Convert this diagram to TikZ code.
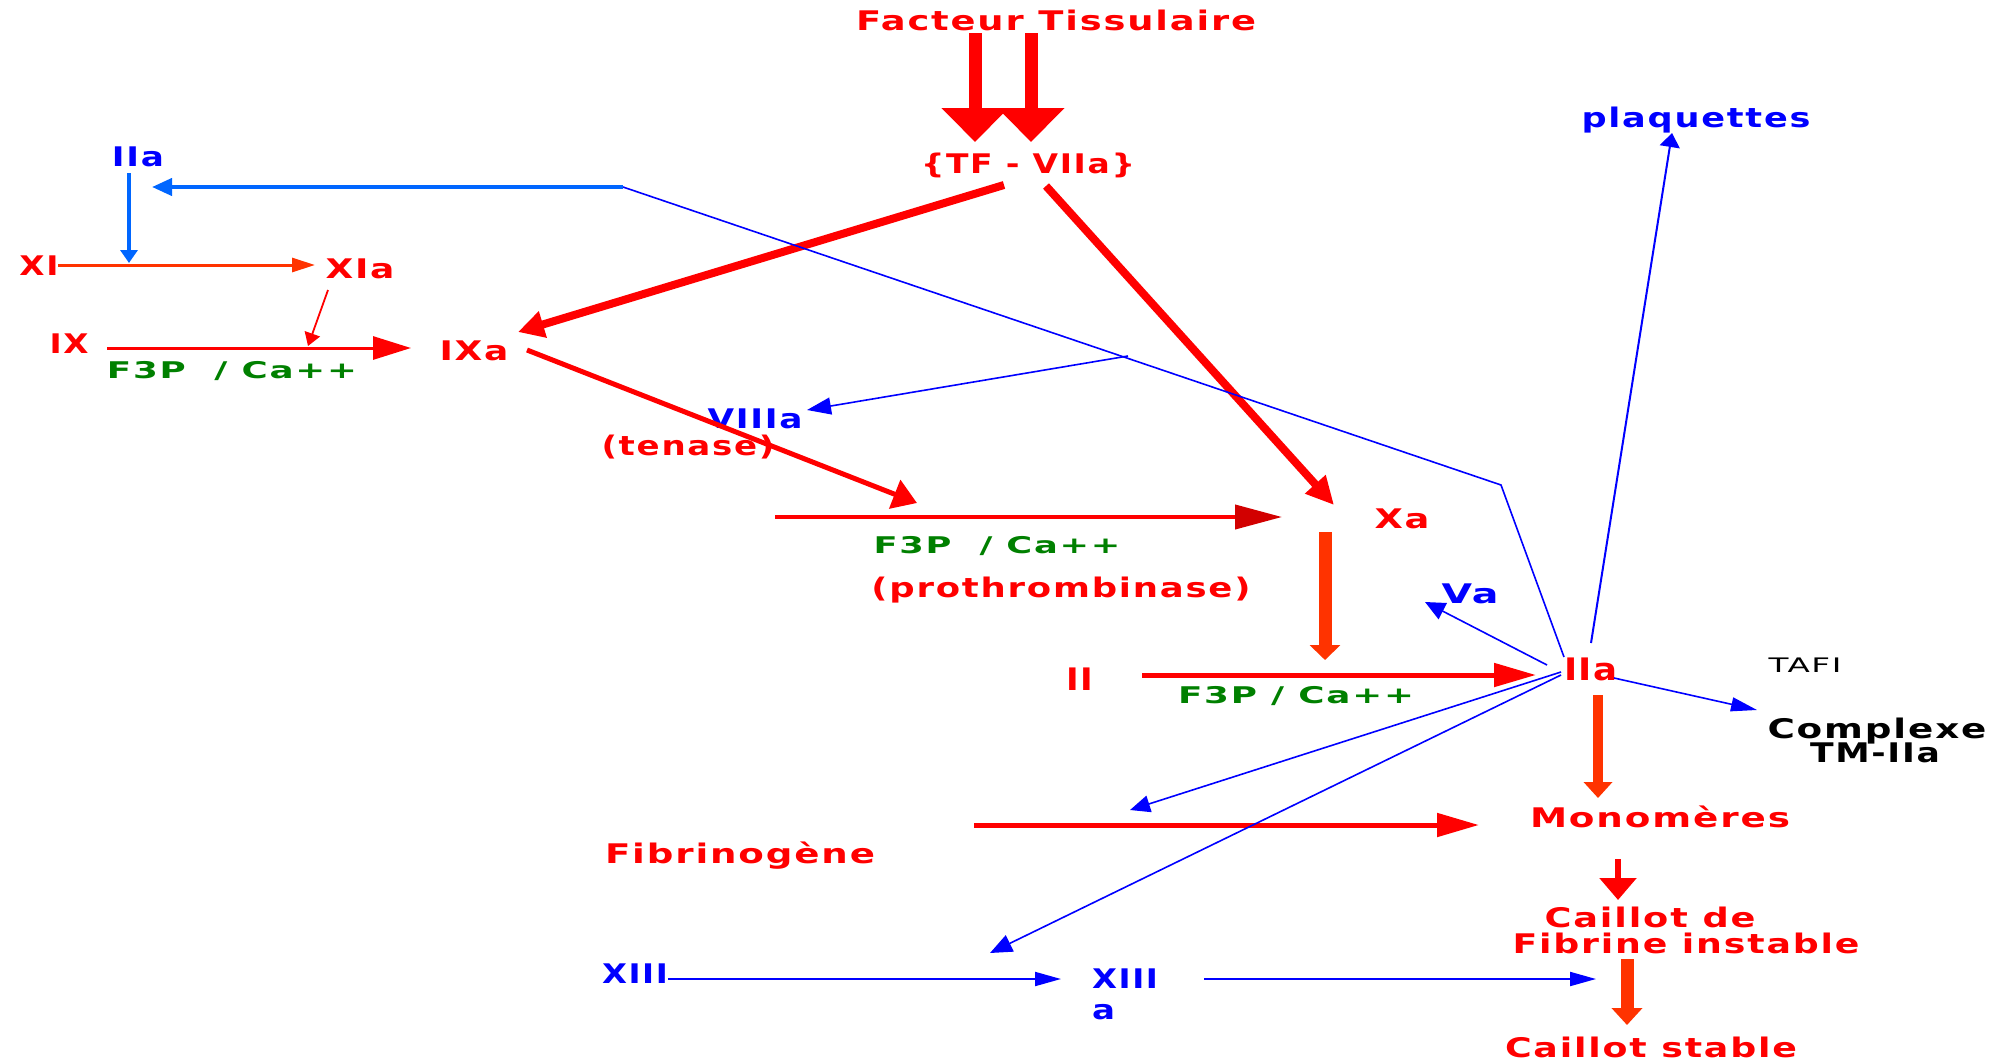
\documentclass[tikz,border=0pt]{standalone}
\usepackage{fontspec}
\usepackage{graphicx}
\setmainfont{DejaVu Sans}
\newfontfamily\lblfont{DejaVu Sans}[LetterSpace=5]
\usetikzlibrary{arrows.meta}
\definecolor{cred}{RGB}{255,0,0}
\definecolor{corange}{RGB}{255,51,0}
\definecolor{cdark}{RGB}{210,0,0}
\definecolor{cblue}{RGB}{0,0,255}
\definecolor{csky}{RGB}{0,102,255}
\definecolor{cgreen}{RGB}{0,128,0}
% stretch a label horizontally to a given width (pt), keeping its height
\newcommand\tw[2]{\resizebox{#1pt}{\height}{#2}}
\begin{document}
\begin{tikzpicture}[x=1pt,y=-1pt,
  lbl/.style={inner sep=0pt, anchor=base, font=\lblfont\bfseries\fontsize{27}{27}\selectfont},
  biglbl/.style={lbl, font=\lblfont\bfseries\fontsize{31}{31}\selectfont},
  cofac/.style={lbl, text=cgreen, font=\lblfont\bfseries\fontsize{23}{23}\selectfont},
  small/.style={inner sep=0pt, anchor=base, font=\lblfont\fontsize{20}{20}\selectfont},
  thin/.style={cblue, line width=1.6pt},
]
\useasboundingbox[fill=white] (0,0) rectangle (1993,1063);

% ---------- labels ----------
\node[lbl,text=cred]   (ft)     at (1056,30)  {\tw{400}{Facteur Tissulaire}};
\node[lbl,text=cred]   (tf)     at (1028,173) {\tw{214}{\{TF - VIIa\}}};
\node[lbl,text=cblue]  (plq)    at (1696,127) {\tw{229}{plaquettes}};
\node[lbl,text=cblue]  (iiatop) at (138,166)  {\tw{52}{IIa}};
\node[lbl,text=cred]   (xi)     at (39,275)   {\tw{39}{XI}};
\node[lbl,text=cred]   (xia)    at (360,278)  {\tw{69}{XIa}};
\node[lbl,text=cred]   (ix)     at (69,353)   {\tw{39}{IX}};
\node[cofac]           (f3pA)   at (232,378)  {\tw{250}{F3P\ \ / Ca++}};
\node[lbl,text=cred]   (ixa)    at (474,360)  {\tw{69}{IXa}};
\node[lbl,text=cblue]  (viiia)  at (755,428)  {\tw{95}{VIIIa}};
\node[lbl,text=cred]   (tenase) at (688,455)  {\tw{173}{(tenase)}};
\node[cofac]           (f3pB)   at (997,553)  {\tw{247}{F3P\ \ / Ca++}};
\node[lbl,text=cred]   (proth)  at (1061,597) {\tw{379}{(prothrombinase)}};
\node[lbl,text=cred]   (xa)     at (1402,528) {\tw{55}{Xa}};
\node[lbl,text=cblue]  (va)     at (1470,603) {\tw{57}{Va}};
\node[biglbl,text=cred] (ii)    at (1080,690) {\tw{27}{II}};
\node[cofac]           (f3pC)   at (1296,703) {\tw{236}{F3P / Ca++}};
\node[biglbl,text=cred] (iia)   at (1591,680) {\tw{54}{IIa}};
\node[small,text=black] (tafi)  at (1805,672) {\tw{73}{TAFI}};
\node[lbl,text=black]  (cplxA)  at (1877,738) {\tw{219}{Complexe}};
\node[lbl,text=black]  (cplxB)  at (1875,762) {\tw{130}{TM-IIa}};
\node[lbl,text=cred]   (mono)   at (1660,827) {\tw{260}{Monomères}};
\node[lbl,text=cred]   (fbg)    at (740,863)  {\tw{270}{Fibrinogène}};
\node[lbl,text=cred]   (cailA)  at (1650,927) {\tw{211}{Caillot de}};
\node[lbl,text=cred]   (cailB)  at (1686,953) {\tw{347}{Fibrine instable}};
\node[lbl,text=cred]   (stable) at (1651,1057){\tw{292}{Caillot stable}};
\node[lbl,text=cblue]  (xiii)   at (635,983)  {\tw{66}{XIII}};
\node[lbl,text=cblue]  (xiiiaA) at (1125,988) {\tw{66}{XIII}};
\node[lbl,text=cblue]  (xiiiaB) at (1103.5,1019) {\tw{23}{a}};

% ---------- anchor points of the connectors ----------
\coordinate (ftL)  at (975,33);   \coordinate (tfL)  at (975,142);
\coordinate (ftR)  at (1031,33);  \coordinate (tfR)  at (1031,142);
\coordinate (tfo1) at (1004,185); \coordinate (ixaIn) at (518,332);
\coordinate (tfo2) at (1046,186); \coordinate (xaIn)  at (1334,505);
\coordinate (iiaTopOut) at (129,173); \coordinate (xiMid) at (129,263);
\coordinate (xiStart) at (58,265); \coordinate (xiEnd) at (315,265);
\coordinate (xiaOut) at (328,290); \coordinate (ixMid) at (308,346);
\coordinate (ixStart) at (107,348); \coordinate (ixEnd) at (411,348);
\coordinate (ixaOut) at (527,350); \coordinate (tenIn) at (917,503);
\coordinate (prStart) at (775,517); \coordinate (prEnd) at (1282,517);
\coordinate (xaOut) at (1325,532); \coordinate (iiLine) at (1325,660);
\coordinate (iiStart) at (1142,675); \coordinate (iiEnd) at (1536,675);
\coordinate (fbStart) at (974,825); \coordinate (fbEnd) at (1479,825);
\coordinate (fbHit) at (1130,810);
% feedback route of thrombin
\coordinate (iiaFb) at (1564,657); \coordinate (fbk1) at (1501,485);
\coordinate (fbk2) at (623,187);  \coordinate (fbk3) at (152,187);
\coordinate (fbkV) at (1128,356); \coordinate (viiiaIn) at (807,410);
% thrombin fan
\coordinate (iiaUp) at (1591,643); \coordinate (plqIn) at (1672,133);
\coordinate (iiaVa) at (1547,665); \coordinate (vaIn) at (1425,602);
\coordinate (iiaL1) at (1561,672); \coordinate (iiaL2) at (1561,675);
\coordinate (xiiiIn) at (990,953);
\coordinate (iiaR) at (1614,678); \coordinate (cplxIn) at (1757,710);
\coordinate (iiaDown) at (1598,695); \coordinate (monoIn) at (1598,798);
\coordinate (monoOut) at (1618,859); \coordinate (cailIn) at (1618,900);
\coordinate (cailOut) at (1627,959); \coordinate (stableIn) at (1627,1025);
\coordinate (xiiiOut) at (668,979); \coordinate (xiiiaIn) at (1061,979);
\coordinate (xiiiaOut) at (1204,979); \coordinate (clotIn) at (1596,979);

% ---------- extrinsic pathway ----------
\draw[cred, line width=13pt, -{Triangle[length=34pt,width=65pt]}] (ftL) -- (tfL);
\draw[cred, line width=13pt, -{Triangle[length=34pt,width=65pt]}] (ftR) -- (tfR);
\draw[cred, line width=8pt, -{Triangle[length=26pt,width=26pt]}] (tfo1) -- (ixaIn);
\draw[cred, line width=8pt, -{Triangle[length=28pt,width=26pt]}] (tfo2) -- (xaIn);

% ---------- intrinsic pathway ----------
\draw[csky, line width=4pt, -{Triangle[length=13pt,width=17pt]}] (iiaTopOut) -- (xiMid);
\draw[corange, line width=3pt, -{Triangle[length=23pt,width=14pt]}] (xiStart) -- (xiEnd);
\draw[cred, line width=1.8pt, -{Triangle[length=13pt,width=16pt]}] (xiaOut) -- (ixMid);
\draw[cred, line width=3pt, -{Triangle[length=38pt,width=23pt]}] (ixStart) -- (ixEnd);
\draw[cred, line width=5pt, -{Triangle[length=24pt,width=30pt]}] (ixaOut) -- (tenIn);
\draw[cred, line width=4pt, -{Triangle[length=47pt,width=24pt,color=cdark]}] (prStart) -- (prEnd);

% ---------- common pathway ----------
\draw[corange, line width=13pt, -{Triangle[length=15pt,width=30pt]}] (xaOut) -- (iiLine);
\draw[cred, line width=5pt, -{Triangle[length=42pt,width=23pt]}] (iiStart) -- (iiEnd);
\draw[cred, line width=5pt, -{Triangle[length=42pt,width=23pt]}] (fbStart) -- (fbEnd);
\draw[corange, line width=10pt, -{Triangle[length=16pt,width=28pt]}] (iiaDown) -- (monoIn);
\draw[cred, line width=6pt, -{Triangle[length=22pt,width=36pt]}] (monoOut) -- (cailIn);
\draw[corange, line width=13pt, -{Triangle[length=17pt,width=30pt]}] (cailOut) -- (stableIn);

% ---------- thrombin feedback ----------
\draw[thin] (iiaFb) -- (fbk1) -- (fbk2);
\draw[csky, line width=4pt, -{Triangle[length=20pt,width=17pt]}] (fbk2) -- (fbk3);
\draw[thin, -{Triangle[length=24pt,width=17pt]}] (fbkV) -- (viiiaIn);
\draw[thin, line width=2pt, -{Triangle[length=14pt,width=20pt]}] (iiaUp) -- (plqIn);
\draw[thin, -{Triangle[length=20pt,width=18pt]}] (iiaVa) -- (vaIn);
\draw[thin, -{Triangle[length=20pt,width=17pt]}] (iiaL1) -- (fbHit);
\draw[thin, -{Triangle[length=22pt,width=18pt]}] (iiaL2) -- (xiiiIn);
\draw[thin, -{Triangle[length=26pt,width=14pt]}] (iiaR) -- (cplxIn);
\draw[thin, line width=2pt, -{Triangle[length=26pt,width=14pt]}] (xiiiOut) -- (xiiiaIn);
\draw[thin, line width=2pt, -{Triangle[length=26pt,width=14pt]}] (xiiiaOut) -- (clotIn);
\end{tikzpicture}
\end{document}
